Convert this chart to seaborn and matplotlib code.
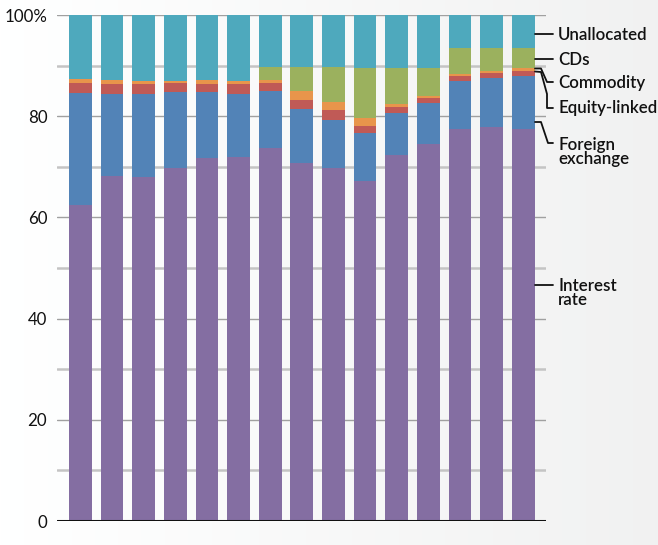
import numpy as np
import pandas as pd
import matplotlib
matplotlib.use("Agg")
import matplotlib.pyplot as plt
from matplotlib.lines import Line2D
import seaborn as sns

# Share of each risk category per period (percent of total)
periods = [f"P{i}" for i in range(1, 16)]
interest_rate = [62.4, 68.2, 68.0, 69.8, 71.8, 71.9, 73.8, 70.8, 69.8, 67.1, 72.3, 74.6, 77.5, 77.9, 77.5]
foreign_exchange = [22.2, 16.2, 16.4, 15.0, 13.0, 12.5, 11.1, 10.6, 9.5, 9.6, 8.3, 8.0, 9.4, 9.6, 10.4]
equity_linked = [2.0, 2.0, 2.0, 1.8, 1.6, 2.0, 1.7, 1.8, 1.9, 1.4, 1.2, 1.0, 1.0, 1.0, 1.0]
commodity = [0.7, 0.8, 0.6, 0.4, 0.8, 0.6, 0.6, 1.7, 1.7, 1.6, 0.6, 0.4, 0.4, 0.4, 0.6]
cds = [0.0, 0.0, 0.0, 0.0, 0.0, 0.0, 2.5, 4.8, 6.8, 9.8, 7.1, 5.5, 5.2, 4.6, 4.0]
unallocated = [12.7, 12.8, 13.0, 13.0, 12.8, 13.0, 10.3, 10.3, 10.3, 10.5, 10.5, 10.5, 6.5, 6.5, 6.5]

series_names = ["Interest rate", "Foreign exchange", "Equity-linked", "Commodity", "CDs", "Unallocated"]
series_values = [interest_rate, foreign_exchange, equity_linked, commodity, cds, unallocated]
series_colors = ["#846ea2", "#5283b7", "#c05a56", "#e8954b", "#9bb15e", "#4ea9bd"]
y_ticks = [0, 20, 40, 60, 80, 100]
y_tick_labels = ["0", "20", "40", "60", "80", "100%"]

df = pd.DataFrame(dict(zip(series_names, series_values)), index=periods)
cum = df.cumsum(axis=1)

sns.set_theme(style="white")
plt.rcParams["font.family"] = ["Lato", "DejaVu Sans"]

W, H = 658, 545
fig = plt.figure(figsize=(W / 100, H / 100), dpi=100)

# soft horizontal background shading
bg = fig.add_axes([0, 0, 1, 1], zorder=-10)
grad = np.linspace(1.0, 0.945, 256)
img = np.dstack([grad, grad + 0.002, grad + 0.002])
img = np.clip(np.repeat(img, 4, axis=0), 0, 1)
bg.imshow(img, aspect="auto", extent=[0, 1, 0, 1])
bg.set_axis_off()

ax = fig.add_axes([57 / W, 1 - 521 / H, (546 - 57) / W, (521 - 15) / H])
ax.patch.set_alpha(0)

# stacked bars: draw cumulative totals from the top layer down
for name, color in zip(series_names[::-1], series_colors[::-1]):
    sns.barplot(x=cum.index, y=cum[name].values, color=color, saturation=1,
                width=0.72, linewidth=0, ax=ax, zorder=3)

ax.set_xlim(-0.74, 14.72)
ax.set_ylim(0, 100)
ax.set_yticks(y_ticks)
ax.set_yticklabels(y_tick_labels, fontsize=12.2, color="#111111")
ax.set_xticks([])
ax.set_xlabel("")
ax.set_ylabel("")
ax.tick_params(axis="y", length=0, pad=7)
for s in ax.spines.values():
    s.set_visible(False)

for v in range(10, 100, 20):
    ax.axhline(v, color="#c4c4c4", lw=1.8, zorder=1)
for v in range(20, 101, 20):
    ax.axhline(v, color="#a0a0a0", lw=1.0, zorder=1)
ax.axhline(0, color="#111111", lw=2.2, zorder=5)

# right-hand series labels with leader lines, in pixel coordinates
ov = fig.add_axes([0, 0, 1, 1], zorder=10)
ov.set_xlim(0, W)
ov.set_ylim(H, 0)
ov.set_axis_off()
ov.patch.set_alpha(0)

leaders = [
    [(535, 34), (553, 34)],
    [(535, 59), (553, 59)],
    [(535, 68.5), (541, 68.5), (547, 82), (553, 82)],
    [(535, 71.5), (541, 72), (547, 94), (547, 108), (553, 108)],
    [(535, 122), (541, 122), (548, 143), (553, 143)],
    [(535, 285), (553, 285)],
]
label_pos = [
    ("Unallocated", 35),
    ("CDs", 60),
    ("Commodity", 83),
    ("Equity-linked", 108),
    ("Foreign\nexchange", 152),
    ("Interest\nrate", 293),
]
for pts in leaders:
    xs, ys = zip(*pts)
    ov.add_line(Line2D(xs, ys, color="#111111", lw=1.3))
for text, y in label_pos:
    ov.text(558, y, text, fontsize=12.2, fontweight="semibold", color="#111111",
            va="center", ha="left", linespacing=0.92)

fig.savefig("out.png", dpi=100)
